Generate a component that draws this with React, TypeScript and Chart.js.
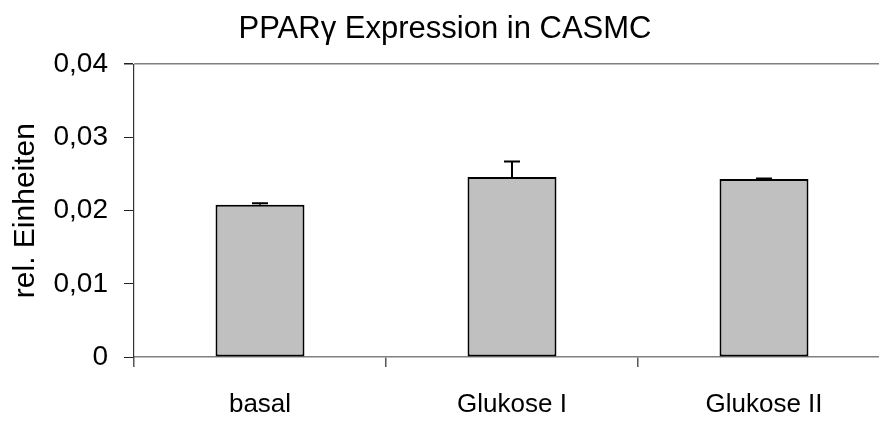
import React, { useEffect, useRef } from "react";
import { Chart, registerables } from "chart.js";

Chart.register(...registerables);

const categories = ["basal", "Glukose I", "Glukose II"];
const values = [0.0208, 0.0246, 0.0243];
const errors = [0.0002, 0.0021, 0.0001];
const yTicks = [0, 0.01, 0.02, 0.03, 0.04];
const titleText = "PPARγ Expression in CASMC";
const yTitle = "rel. Einheiten";

const errorBarPlugin = {
  id: "errorBars",
  afterDatasetsDraw(chart: any) {
    const meta = chart.getDatasetMeta(0);
    const y = chart.scales.y;
    const ctx = chart.ctx;
    ctx.save();
    ctx.strokeStyle = "#000";
    ctx.lineWidth = 2;
    meta.data.forEach((bar: any, i: number) => {
      const base = y.getPixelForValue(values[i]);
      const top = y.getPixelForValue(values[i] + errors[i]);
      ctx.beginPath();
      ctx.moveTo(bar.x, base);
      ctx.lineTo(bar.x, top);
      ctx.moveTo(bar.x - 8, top);
      ctx.lineTo(bar.x + 8, top);
      ctx.stroke();
    });
    ctx.restore();
  },
};

export default function App() {
  const ref = useRef<HTMLCanvasElement | null>(null);
  useEffect(() => {
    if (!ref.current) return;
    const chart = new Chart(ref.current, {
      type: "bar",
      data: {
        labels: categories,
        datasets: [
          {
            data: values,
            backgroundColor: "#C0C0C0",
            borderColor: "#000000",
            borderWidth: 2,
            borderSkipped: false,
            barPercentage: 0.353,
            categoryPercentage: 1,
          },
        ],
      },
      options: {
        responsive: false,
        animation: false,
        devicePixelRatio: 1,
        layout: { padding: { left: 0, right: 2, top: 0, bottom: 0 } },
        plugins: {
          legend: { display: false },
          tooltip: { enabled: false },
          title: {
            display: true,
            text: titleText,
            color: "#000",
            font: { family: "'Liberation Sans', Arial, sans-serif", size: 31, weight: "normal" },
            padding: { top: 11, bottom: 16 },
          },
        },
        scales: {
          x: {
            grid: {
              offset: true,
              drawOnChartArea: false,
              tickLength: 10,
              color: "#555",
              lineWidth: 1.5,
            },
            border: { color: "#808080", width: 1.5 },
            ticks: {
              color: "#000",
              padding: 22,
              font: { family: "'Liberation Sans', Arial, sans-serif", size: 26 },
            },
            afterFit: (s: any) => {
              s.height = 65;
            },
          },
          y: {
            min: 0,
            max: 0.04,
            afterBuildTicks: (s: any) => {
              s.ticks = yTicks.map((v) => ({ value: v }));
            },
            grid: {
              drawOnChartArea: true,
              color: (c: any) => (c.tick && c.tick.value === 0.04 ? "#808080" : "rgba(0,0,0,0)"),
              lineWidth: (c: any) => (c.tick && c.tick.value === 0.04 ? 1.5 : 1),
              tickColor: "#222",
              tickLength: 10,
            },
            border: { color: "#333", width: 1.2 },
            ticks: {
              color: "#000",
              padding: 16,
              font: { family: "'Liberation Sans', Arial, sans-serif", size: 28 },
              callback: (v: any) => (Number(v) === 0 ? "0" : Number(v).toFixed(2).replace(".", ",")),
            },
            title: {
              display: true,
              text: yTitle,
              color: "#000",
              font: { family: "'Liberation Sans', Arial, sans-serif", size: 30 },
              padding: { top: 8, bottom: 0 },
            },
            afterFit: (s: any) => {
              s.width = 134;
            },
          },
        },
      },
      plugins: [errorBarPlugin],
    });
    return () => chart.destroy();
  }, []);
  return (
    <div
      style={{
        position: "fixed",
        left: 0,
        top: 0,
        width: 879,
        height: 422,
        overflow: "hidden",
        background: "#fff",
      }}
    >
      <canvas ref={ref} width={892} height={422} style={{ display: "block" }} />
    </div>
  );
}
